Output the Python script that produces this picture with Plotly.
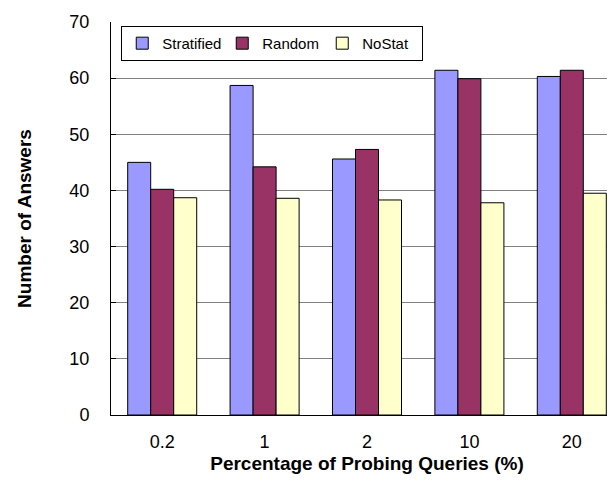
import plotly.graph_objects as go

categories = ["0.2", "1", "2", "10", "20"]
stratified = [45.0, 58.7, 45.6, 61.4, 60.3]
random_vals = [40.2, 44.2, 47.3, 59.9, 61.4]
nostat = [38.7, 38.6, 38.3, 37.8, 39.5]
y_ticks = [0, 10, 20, 30, 40, 50, 60, 70]

FONT = "Liberation Sans, Arial, sans-serif"

fig = go.Figure()
for name, vals, color in [("Stratified", stratified, "#9999FF"),
                          ("Random", random_vals, "#993366"),
                          ("NoStat", nostat, "#FFFFCC")]:
    fig.add_trace(go.Bar(x=categories, y=vals, name=name,
                         marker=dict(color=color, line=dict(color="black", width=1))))

fig.update_layout(
    width=615, height=485,
    margin=dict(l=103, r=0, t=14, b=78),
    paper_bgcolor="white", plot_bgcolor="white",
    barmode="group", bargap=0.326, bargroupgap=0,
    font=dict(family=FONT, size=18, color="black"),
    showlegend=True,
    legend=dict(orientation="h", x=0.02, y=0.99, xanchor="left", yanchor="top",
                bordercolor="black", borderwidth=1, bgcolor="white",
                font=dict(size=15, family=FONT), entrywidth=55, entrywidthmode="pixels",
                itemwidth=30, tracegroupgap=0),
)
fig.update_xaxes(type="category", showline=True, linecolor="black", linewidth=1,
                 ticks="", ticklabelstandoff=10, tickfont=dict(size=18),
                 title=dict(text="<b>Percentage of Probing Queries (%)</b>", font=dict(size=19, family=FONT), standoff=6))
fig.update_yaxes(range=[0, 70], tickvals=y_ticks, showline=True, linecolor="black", linewidth=1,
                 ticks="inside", ticklen=5, tickcolor="black", tickfont=dict(size=18),
                 showgrid=True, gridcolor="#808080", gridwidth=1,
                 ticklabelstandoff=17, zeroline=False,
                 title=dict(text="<b>Number of Answers</b>", font=dict(size=19, family=FONT), standoff=32))

fig.write_html("out.html")
